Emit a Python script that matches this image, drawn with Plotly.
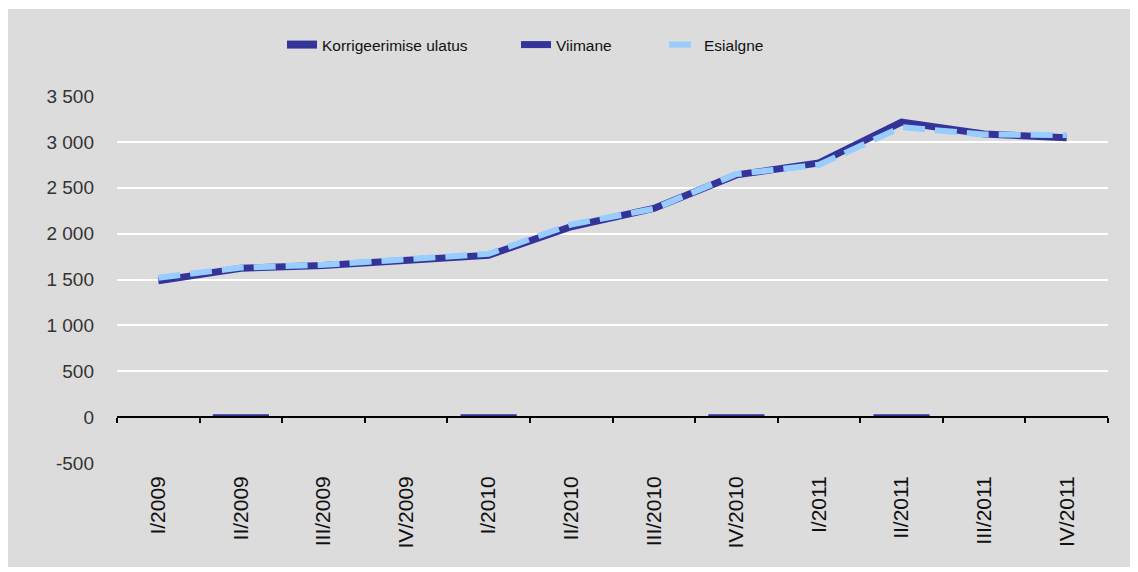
import plotly.graph_objects as go

categories = ["I/2009", "II/2009", "III/2009", "IV/2009", "I/2010", "II/2010",
              "III/2010", "IV/2010", "I/2011", "II/2011", "III/2011", "IV/2011"]
korrigeerimine = [10, 30, 10, 10, 30, 10, 10, 30, 10, 30, 10, 10]
viimane = [1485, 1622, 1652, 1700, 1765, 2075, 2275, 2640, 2770, 3215, 3085, 3045]
esialgne = [1520, 1630, 1660, 1725, 1780, 2100, 2270, 2650, 2750, 3160, 3080, 3075]
ytickvals = [-500, 0, 500, 1000, 1500, 2000, 2500, 3000, 3500]
yticktext = ["-500", "0", "500", "1 000", "1 500", "2 000", "2 500", "3 000", "3 500"]

# page has an 8px body margin, so the figure is sized to fit the window
W, H = 1130, 564
ml, mr, mt, mb = 109, 30, 88, 109
pw, ph = W - ml - mr, H - mt - mb
ymin, ymax = -500, 3500

fig = go.Figure()
# legend proxy for the bar series (wide rectangle swatch)
fig.add_trace(go.Scatter(x=[None], y=[None], name="Korrigeerimise ulatus", mode="lines",
                         line=dict(color="#333399", width=8), legendgroup="k",
                         hoverinfo="skip", legend="legend"))
fig.add_trace(go.Bar(x=categories, y=korrigeerimine, name="Korrigeerimise ulatus",
                     marker=dict(color="#333399", line=dict(width=0)),
                     xaxis="x2", showlegend=False, legendgroup="k"))
fig.add_trace(go.Scatter(x=categories, y=viimane, name="Viimane", mode="lines",
                         line=dict(color="#333399", width=7), legend="legend2"))
fig.add_trace(go.Scatter(x=categories, y=esialgne, name="Esialgne", mode="lines",
                         line=dict(color="#99ccff", width=6, dash="22px,10px"),
                         legend="legend3"))

zero_pos = (0 - ymin) / (ymax - ymin)
leg_common = dict(orientation="h", xref="paper", yref="container", y=1 - 37 / H,
                  yanchor="middle", xanchor="left", bgcolor="rgba(0,0,0,0)",
                  font=dict(size=15.5, color="#111111"))


def lx(page_x):
    return (page_x - 8 - ml) / pw


fig.update_layout(
    width=W, height=H,
    margin=dict(l=ml, r=mr, t=mt, b=mb, autoexpand=False),
    paper_bgcolor="white",
    plot_bgcolor="#dcdcdc",
    font=dict(family="Liberation Sans, Arial, sans-serif", size=16, color="#222222"),
    bargap=0.32,
    showlegend=True,
    legend=dict(x=lx(282), **leg_common),
    legend2=dict(x=lx(516), **leg_common),
    legend3=dict(x=lx(664), **leg_common),
    xaxis=dict(type="category", showgrid=False, showline=False, ticks="",
               tickangle=-90, tickfont=dict(size=21, color="#111111"),
               range=[-0.5, 11.5], zeroline=False, ticklabelstandoff=8),
    xaxis2=dict(overlaying="x", matches="x", anchor="free", position=zero_pos,
                type="category", showticklabels=False, tickson="boundaries",
                ticks="outside", ticklen=5, tickwidth=2, tickcolor="black",
                showline=True, linecolor="black", linewidth=2, showgrid=False,
                zeroline=False),
    yaxis=dict(range=[ymin, ymax], tickvals=ytickvals, ticktext=yticktext,
               showgrid=True, gridcolor="white", gridwidth=2, zeroline=False,
               ticks="", tickfont=dict(size=19, color="#333333"),
               ticklabelstandoff=22),
)

# gray background panel
fig.add_shape(type="rect", xref="paper", yref="paper", layer="below",
              x0=(0 - ml) / pw, x1=(1125 - ml) / pw,
              y0=(H - mb - 559) / ph, y1=(H - mb - 1) / ph,
              fillcolor="#dcdcdc", line=dict(width=0))

fig.write_html("out.html")
